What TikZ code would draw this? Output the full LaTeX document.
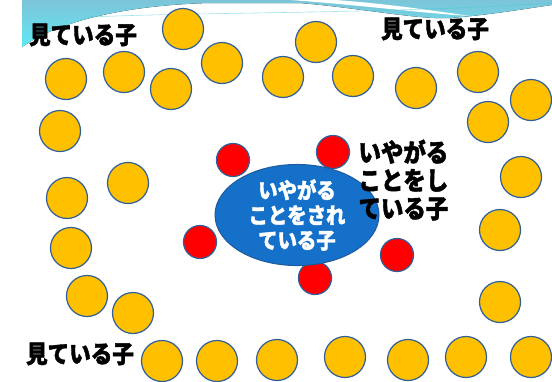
\documentclass[tikz,border=0pt]{standalone}
\usepackage{fontspec}
\newfontfamily\jpfont{Noto Sans CJK JP Black}[FakeStretch=0.88,FakeBold=1.5]
\usetikzlibrary{shapes.geometric,positioning}
\usepackage{xcolor}
\definecolor{kidyellow}{HTML}{FFC000}
\definecolor{kidedge}{HTML}{2F5F9A}
\definecolor{bullyred}{HTML}{FF0000}
\definecolor{victimblue}{HTML}{1470C8}
\definecolor{victimedge}{HTML}{1F5A9E}
\definecolor{wavetop}{HTML}{7CC4D8}
\definecolor{wavecyan}{HTML}{60E8F4}

\begin{document}
\begin{tikzpicture}[x=1pt,y=-1pt,
	watcher/.style={circle,draw=kidedge,line width=1.2pt,fill=kidyellow,minimum size=41pt,inner sep=0pt},
	bully/.style={circle,draw=kidedge,line width=1.2pt,fill=bullyred,minimum size=33pt,inner sep=0pt},
	victim/.style={ellipse,draw=victimedge,line width=1pt,fill=victimblue,minimum width=164pt,minimum height=86pt,inner sep=0pt,
		text=white,align=center,font=\jpfont\fontsize{22}{25}\selectfont},
	watchtext/.style={font=\jpfont\fontsize{24.5}{26}\selectfont},
	bullytext/.style={align=left,font=\jpfont\fontsize{25.5}{28}\selectfont}]
	\useasboundingbox (0,0) rectangle (552,381);
	\fill[white] (0,0) rectangle (552,381);
	\fill[top color=wavetop,bottom color=wavecyan] (22,0) -- (552,0) -- (552,5) .. controls (530,8) and (490,15) .. (450,18) .. controls (420,20) and (360,8) .. (300,3) -- (210,3) .. controls (130,5) and (60,20) .. (22,47) -- cycle;
	\fill[white] (290,0) .. controls (360,5) and (420,13) .. (470,16) .. controls (430,10) and (380,3) .. (335,0) -- cycle;
	\draw[wavecyan!70!teal,opacity=0.5,line width=0.6pt] (90,17) .. controls (200,12) and (380,14) .. (552,3);

	\foreach \p [count=\i] in {(183,29),(66,79),(124,72),(171,89),(222,63),(60,131),(283,77),(316,42),(353,76),(416,88),(478,72),(531,100),(488,122),(521,177),
		(128,183),(67,198),(71,248),(87,296),(133,313),(162,361),(217,361),(277,360),(345,357),(408,360),(466,357),(531,357),(500,302),(500,230)}
		\node[watcher] (w\i) at \p {};

	\foreach \p [count=\i] in {(233,160),(333,152),(200,242),(397,255),(315,278)}
		\node[bully] (b\i) at \p {};

	\node[victim] (victim) at (297,215) {いやがる\\ことをされ\\ている子};
	\node[bullytext,anchor=west] (bullylabel) at (355,180) {いやがる\\ことをし\\ている子};

	\node[watchtext] (watchtl) at (83,35) {見ている子};
	\node[watchtext] (watchtr) at (435,29) {見ている子};
	\node[watchtext] (watchbl) at (80,354) {見ている子};
\end{tikzpicture}
\end{document}
